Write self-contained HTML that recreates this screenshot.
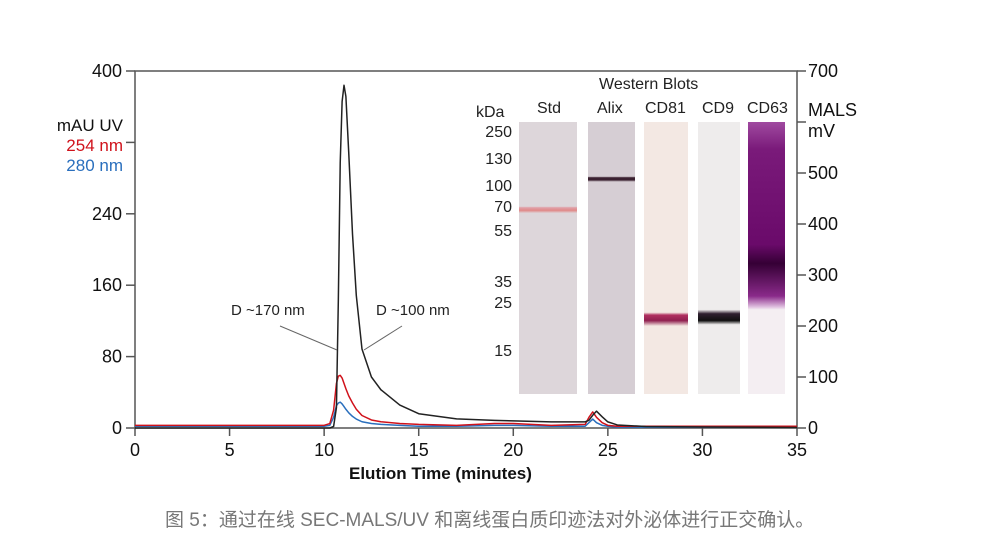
<!DOCTYPE html>
<html><head><meta charset="utf-8"><style>
body{margin:0;background:#fff;width:983px;height:550px;overflow:hidden;position:relative;font-family:"Liberation Sans","Noto Sans CJK SC",sans-serif}
.lane{position:absolute;top:122px;height:272px}
.lbl{position:absolute;font-size:16px;color:#222}
</style></head><body>
<svg id="chart" width="983" height="550" style="position:absolute;left:0;top:0">
<g id="axes"></g><g id="series"></g>
</svg>
<div>
<div class="lbl" style="left:599px;top:76px">Western Blots</div>
<div class="lbl" style="left:476px;top:104px">kDa</div>
<div class="lbl" style="left:537px;top:100px">Std</div>
<div class="lbl" style="left:597px;top:100px">Alix</div>
<div class="lbl" style="left:645px;top:100px">CD81</div>
<div class="lbl" style="left:702px;top:100px">CD9</div>
<div class="lbl" style="left:747px;top:100px">CD63</div>
<div style="position:absolute;left:476px;top:0;font-size:16px;color:#222;width:36px;text-align:right">
<div style="position:absolute;top:124px;right:0">250</div><div style="position:absolute;top:151px;right:0">130</div>
<div style="position:absolute;top:178px;right:0">100</div><div style="position:absolute;top:199px;right:0">70</div>
<div style="position:absolute;top:223px;right:0">55</div><div style="position:absolute;top:274px;right:0">35</div>
<div style="position:absolute;top:295px;right:0">25</div><div style="position:absolute;top:343px;right:0">15</div></div>
<div class="lane" style="left:519px;width:58px;background-color:#ddd6da;background-image:linear-gradient(to bottom,transparent 31%,#e0a0a8 31.5%,#e08888 32.5%,transparent 33.5%)"></div>
<div class="lane" style="left:588px;width:47px;background-color:#d6ced4;background-image:linear-gradient(to bottom,transparent 20%,#3a2030 20.5%,#3a2030 21.3%,transparent 22%)"></div>
<div class="lane" style="left:644px;width:44px;background-color:#f3e8e3;background-image:linear-gradient(to bottom,transparent 70%,#b03060 71%,#902050 73%,transparent 75%)"></div>
<div class="lane" style="left:698px;width:42px;background-color:#eeecec;background-image:linear-gradient(to bottom,transparent 69%,#302030 70.5%,#101010 73%,transparent 74.5%)"></div>
<div class="lane" style="left:748px;width:37px;background-color:#f4eef2;background-image:linear-gradient(to bottom,#a04aa0 0%,#7a1a7a 10%,#6a0a6a 45%,#350035 52%,#8a2a8a 64%,#e0c0e0 68%,transparent 69%)"></div>
</div>
<div style="position:absolute;left:40px;top:116px;font-size:17px;line-height:20px;text-align:right;width:83px">
<div style="color:#111">mAU UV</div><div style="color:#d0121b">254 nm</div><div style="color:#2a6fbd">280 nm</div></div>
<div style="position:absolute;left:808px;top:100px;font-size:18px;line-height:21px;color:#111">MALS<br>mV</div>
<div style="position:absolute;left:231px;top:302px;font-size:15px;color:#222">D ~170 nm</div>
<div style="position:absolute;left:376px;top:302px;font-size:15px;color:#222">D ~100 nm</div>
<div style="position:absolute;left:349px;top:464px;font-size:17px;font-weight:bold;color:#111">Elution Time (minutes)</div>
<div style="position:absolute;left:165px;width:700px;top:505px;font-size:19px;color:#777;white-space:nowrap">图 5：通过在线 SEC-MALS/UV 和离线蛋白质印迹法对外泌体进行正交确认。</div>
<script>
const xTicks=[0,5,10,15,20,25,30,35];
const yLeftTicks=[0,80,160,240,320,400];
const yLeftLabels=["0","80","160","240","","400"];
const yRightTicks=[0,100,200,300,400,500,600,700];
const yRightLabels=["0","100","200","300","400","500","","700"];
const time=[0,5,10,10.3,10.5,10.65,10.75,10.85,10.95,11.05,11.15,11.3,11.5,11.7,12,12.5,13,14,15,17,19,20,22,23.8,24.0,24.2,24.4,24.7,25,25.5,27,30,35];
const mals=[0,0,0,0,3,40,250,520,640,672,650,540,380,260,155,100,75,45,28,18,15,14,12,12,15,25,33,22,12,6,3,2,1];
const uv254=[3,3,3,5,20,50,58,59,56,50,44,36,28,21,14,9,7,5,4,3,5,5,3,4,12,18,12,6,3,2,2,2,2];
const uv280=[2,2,2,3,12,25,28,29,27,24,21,17,13,10,7,5,4,3,2,2,3,3,2,2,6,10,6,3,2,1,1,1,1];
const X=t=>135+t*(662/35), YL=v=>428-v*(357/400), YR=v=>428-v*(357/700);
const NS="http://www.w3.org/2000/svg";
const ax=document.getElementById('axes'), se=document.getElementById('series');
function mk(tag,at,p){const e=document.createElementNS(NS,tag);for(const k in at)e.setAttribute(k,at[k]);p.appendChild(e);return e;}
let f=mk('path',{d:`M135,71H797V428H135Z`,fill:'none',stroke:'#555','stroke-width':1.5},ax);


xTicks.forEach(t=>{mk('line',{x1:X(t),x2:X(t),y1:428,y2:436,stroke:'#555','stroke-width':1.5},ax);
 const tx=mk('text',{x:X(t),y:456,'text-anchor':'middle','font-size':18,fill:'#111'},ax);tx.textContent=t;
 
 });
yLeftTicks.forEach((v,i)=>{mk('line',{x1:126,x2:135,y1:YL(v),y2:YL(v),stroke:'#555','stroke-width':1.5},ax);
 const tx=mk('text',{x:122,y:YL(v)+6,'text-anchor':'end','font-size':18,fill:'#111'},ax);tx.textContent=yLeftLabels[i];
 
 });
yRightTicks.forEach((v,i)=>{mk('line',{x1:797,x2:806,y1:YR(v),y2:YR(v),stroke:'#555','stroke-width':1.5},ax);
 const tx=mk('text',{x:808,y:YR(v)+6,'font-size':18,fill:'#111'},ax);tx.textContent=yRightLabels[i];
 
 });
function line(vals,sc,col,name){const p=mk('polyline',{points:time.map((t,i)=>X(t)+','+sc(vals[i])).join(' '),fill:'none',stroke:col,'stroke-width':1.5,'stroke-linejoin':'round'},se);
 
 }
line(uv280,YL,'#2a6fbd','series-uv-280nm');
line(uv254,YL,'#d0121b','series-uv-254nm');
line(mals,YR,'#222','series-mals');
mk('line',{x1:280,y1:326,x2:337,y2:350,stroke:'#666','stroke-width':1},se);
mk('line',{x1:402,y1:326,x2:364,y2:350,stroke:'#666','stroke-width':1},se);
</script>
</body></html>
